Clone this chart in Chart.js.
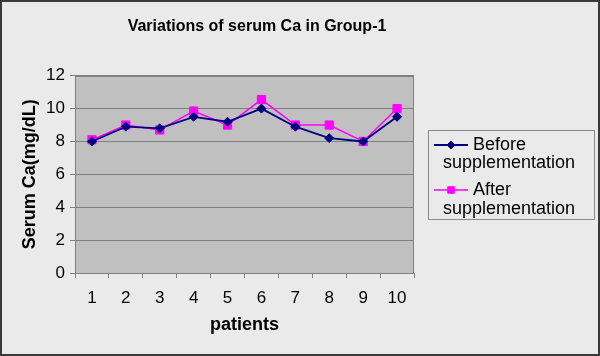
<!DOCTYPE html>
<html>
<head>
<meta charset="utf-8">
<script src="https://cdn.jsdelivr.net/npm/chart.js@4"></script>
<style>
  html, body { margin: 0; padding: 0; background: #EAEAEA; }
  #wrap { width: 600px; height: 356px; position: relative; }
  canvas { display: block; }
</style>
</head>
<body>
<div id="wrap"><canvas id="c" width="600" height="356"></canvas></div>
<script>
// ---- data ----
const chartTitle = 'Variations of serum Ca in Group-1';
const xTitle = 'patients';
const yTitle = 'Serum Ca(mg/dL)';
const patients = ['1', '2', '3', '4', '5', '6', '7', '8', '9', '10'];
const beforeValues = [8.0, 8.9, 8.8, 9.5, 9.2, 10.0, 8.9, 8.2, 8.0, 9.5];
const afterValues  = [8.1, 9.0, 8.7, 9.85, 9.0, 10.55, 9.0, 9.0, 8.0, 10.0];
const seriesNames = [['Before', 'supplementation'], ['After', 'supplementation']];
const yMin = 0, yMax = 12, yStep = 2;

const FONT = 'Arial, "Liberation Sans", sans-serif';
const NAVY = '#000080';
const MAGENTA = '#FF00FF';

const decor = {
  id: 'decor',
  beforeDraw(chart) {
    const ctx = chart.ctx;
    const a = chart.chartArea;
    ctx.save();
    ctx.fillStyle = '#EAEAEA';
    ctx.fillRect(0, 0, chart.width, chart.height);
    ctx.fillStyle = '#C0C0C0';
    ctx.fillRect(a.left, a.top, a.right - a.left, a.bottom - a.top);
    ctx.restore();
  },
  afterDatasetsDraw(chart) {
    const ctx = chart.ctx;
    const a = chart.chartArea;
    ctx.save();
    ctx.strokeStyle = '#808080';
    ctx.lineWidth = 1;
    ctx.strokeRect(Math.round(a.left) + 0.5, Math.round(a.top) + 0.5,
                   Math.round(a.right - a.left) - 1, Math.round(a.bottom - a.top));
    ctx.restore();
  },
  afterDraw(chart) {
    const ctx = chart.ctx;
    ctx.save();
    // outer frame
    ctx.strokeStyle = '#3a3a3a';
    ctx.lineWidth = 2;
    ctx.strokeRect(1, 1, chart.width - 2, chart.height - 2);
    // legend box
    ctx.strokeStyle = '#8a8a8a';
    ctx.lineWidth = 1;
    ctx.strokeRect(428.5, 130.5, 166, 89);
    const entries = [
      { ds: chart.data.datasets[0], y1: 145, y2: 163 },
      { ds: chart.data.datasets[1], y1: 190, y2: 209 }
    ];
    ctx.font = '18px ' + FONT;
    ctx.textBaseline = 'middle';
    ctx.textAlign = 'left';
    entries.forEach((e, i) => {
      const ds = e.ds;
      ctx.strokeStyle = ds.borderColor;
      ctx.lineWidth = ds.borderWidth;
      ctx.beginPath();
      ctx.moveTo(434, e.y1);
      ctx.lineTo(468, e.y1);
      ctx.stroke();
      ctx.fillStyle = ds.pointBackgroundColor;
      ctx.strokeStyle = ds.pointBorderColor;
      ctx.lineWidth = 1;
      Chart.helpers.drawPoint(ctx, {
        pointStyle: ds.pointStyle,
        radius: ds.pointStyle === 'rect' ? 4.6 : 4,
        borderWidth: 1,
        rotation: 0
      }, 451, e.y1);
      ctx.fillStyle = '#000';
      ctx.fillText(seriesNames[i][0], 473, e.y1);
      ctx.fillText(seriesNames[i][1], 443, e.y2);
    });
    ctx.restore();
  }
};

new Chart(document.getElementById('c'), {
  type: 'line',
  data: {
    labels: patients,
    datasets: [
      {
        label: seriesNames[0].join(' '),
        data: beforeValues,
        borderColor: NAVY,
        backgroundColor: NAVY,
        borderWidth: 1.8,
        pointStyle: 'rectRot',
        pointRadius: 4.5,
        pointHoverRadius: 4.5,
        pointBackgroundColor: NAVY,
        pointBorderColor: NAVY,
        pointBorderWidth: 1,
        tension: 0,
        fill: false
      },
      {
        label: seriesNames[1].join(' '),
        data: afterValues,
        borderColor: MAGENTA,
        backgroundColor: MAGENTA,
        borderWidth: 1.5,
        pointStyle: 'rect',
        pointRadius: 5.8,
        pointHoverRadius: 5.8,
        pointBackgroundColor: MAGENTA,
        pointBorderColor: MAGENTA,
        pointBorderWidth: 1,
        tension: 0,
        fill: false
      }
    ]
  },
  options: {
    responsive: false,
    animation: false,
    devicePixelRatio: 1,
    layout: { padding: { left: 0, right: 86, top: 0, bottom: 0 } },
    plugins: {
      legend: { display: false },
      tooltip: { enabled: false },
      title: {
        display: true,
        text: chartTitle,
        color: '#000',
        font: { family: FONT, size: 16, weight: 'bold', lineHeight: 1.2 },
        padding: { top: 17.2, bottom: 39.3 }
      }
    },
    scales: {
      x: {
        type: 'category',
        offset: true,
        grid: {
          offset: true,
          drawOnChartArea: false,
          drawTicks: true,
          tickLength: 5,
          tickColor: '#808080',
          color: '#808080'
        },
        border: { display: true, color: '#808080' },
        ticks: {
          color: '#000',
          font: { family: FONT, size: 17 },
          padding: 10,
          maxRotation: 0,
          autoSkip: false
        },
        title: {
          display: true,
          text: xTitle,
          color: '#000',
          font: { family: FONT, size: 18, weight: 'bold', lineHeight: 1.2 },
          padding: { top: 0, bottom: 20.4 }
        },
        afterFit(scale) { scale.height = 83; }
      },
      y: {
        type: 'linear',
        position: 'left',
        min: yMin,
        max: yMax,
        grid: {
          color: '#808080',
          lineWidth: 1,
          drawTicks: true,
          tickLength: 5,
          tickColor: '#808080'
        },
        border: { display: true, color: '#808080' },
        ticks: {
          stepSize: yStep,
          color: '#000',
          font: { family: FONT, size: 17 },
          padding: 5
        },
        title: {
          display: true,
          text: yTitle,
          color: '#000',
          font: { family: FONT, size: 18, weight: 'bold', lineHeight: 1.2 },
          padding: { top: 19.2, bottom: 0 }
        },
        afterFit(scale) { scale.width = 75; }
      },
      spacer: {
        type: 'linear',
        position: 'right',
        display: true,
        grid: { display: false, drawTicks: false },
        border: { display: false },
        ticks: { display: false },
        afterFit(scale) { scale.width = 100; }
      }
    }
  },
  plugins: [decor]
});
</script>
</body>
</html>
